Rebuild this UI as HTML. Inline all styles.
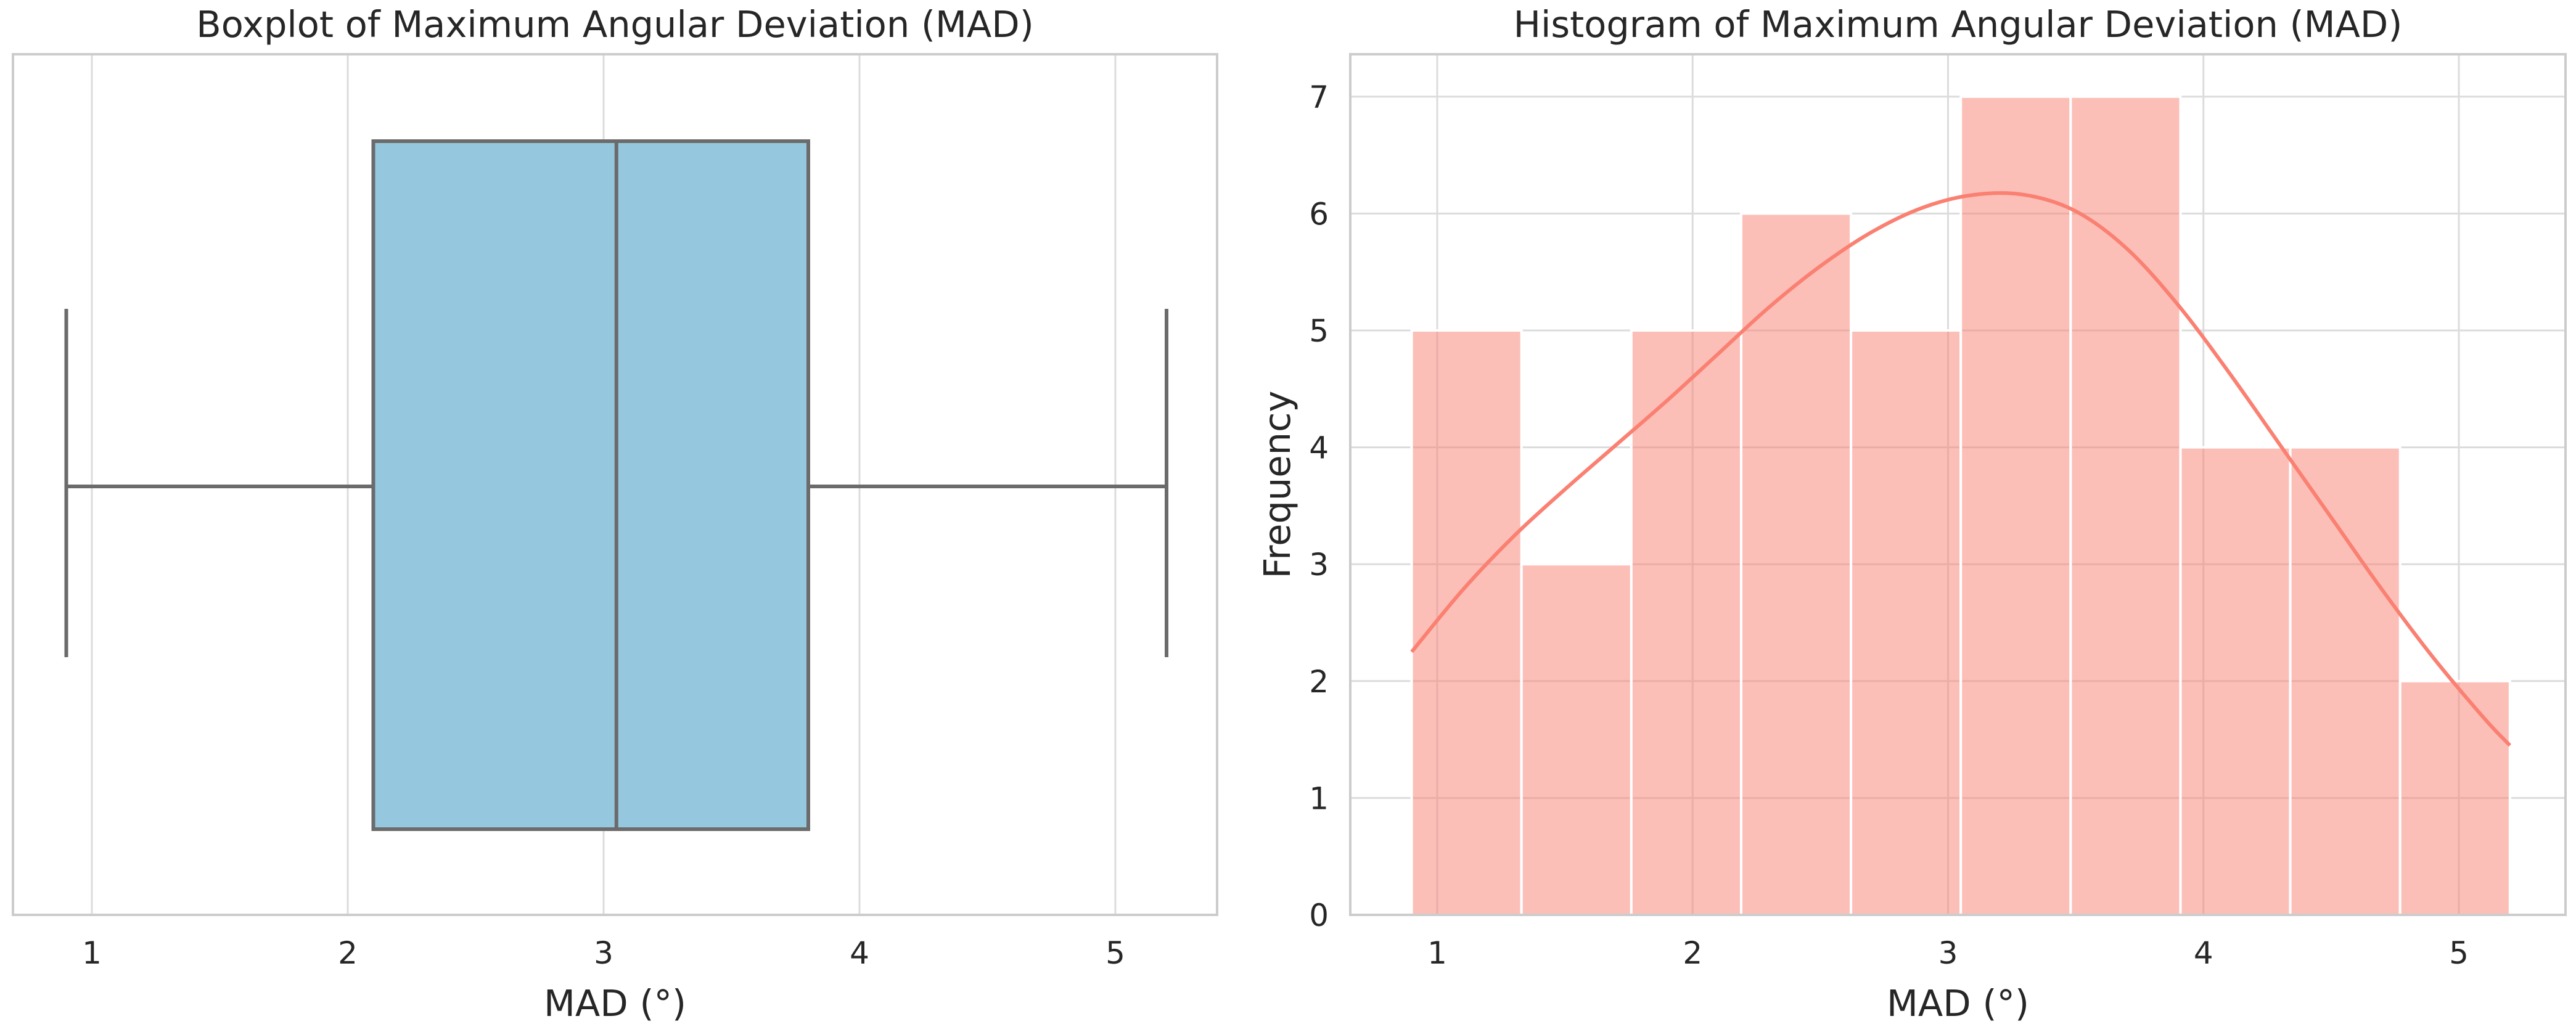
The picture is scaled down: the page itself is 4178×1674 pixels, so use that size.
<!DOCTYPE html>
<html><head><meta charset="utf-8"><style>
html,body{margin:0;padding:0;background:#fff;}
svg{display:block;font-family:"DejaVu Sans","Liberation Sans",sans-serif;}
</style></head><body>
<svg id="fig" width="4178" height="1674" viewBox="0 0 4178 1674"></svg>
<script>
// Boxplot data
const boxStats = [0.9, 2.1, 3.05, 3.8, 5.2]; // whislo, q1, med, q3, whishi
const xTicks = [1, 2, 3, 4, 5];
// Histogram data
const binEdges = [0.9, 1.33, 1.76, 2.19, 2.62, 3.05, 3.48, 3.91, 4.34, 4.77, 5.2];
const binCounts = [5, 3, 5, 6, 5, 7, 7, 4, 4, 2];
const yTicks = [0, 1, 2, 3, 4, 5, 6, 7];
const kdeX = [0.9, 1.1, 1.3, 1.5, 1.7, 1.9, 2.1, 2.3, 2.5, 2.7, 2.9, 3.1, 3.3, 3.5, 3.7, 3.9, 4.1, 4.3, 4.5, 4.7, 4.9, 5.1, 5.2];
const kdeY = [2.25, 2.78, 3.24, 3.64, 4.02, 4.40, 4.80, 5.20, 5.55, 5.84, 6.05, 6.16, 6.16, 6.02, 5.70, 5.22, 4.64, 4.02, 3.40, 2.78, 2.20, 1.68, 1.45];

const NS = 'http://www.w3.org/2000/svg';
const svg = document.getElementById('fig');
function mk(tag, attrs, parent) {
  const e = document.createElementNS(NS, tag);
  for (const k in attrs) e.setAttribute(k, attrs[k]);
  (parent || svg).appendChild(e);
  return e;
}
function txt(s, attrs) { const t = mk('text', attrs); t.textContent = s; return t; }
const TICK_FS = 50, LABEL_FS = 59;

// ---------- Left: boxplot ----------
const L = {x0: 21, x1: 1974, y0: 88, y1: 1484};
const bx = v => 149 + (v - 1) * 415;
for (const t of xTicks) {
  const g = mk('line', {x1: bx(t), x2: bx(t), y1: L.y0, y2: L.y1, stroke: '#dcdcdc', 'stroke-width': 3});
  
  
  const lb = txt(String(t), {x: bx(t), y: 1563, 'font-size': TICK_FS, fill: '#262626', 'text-anchor': 'middle'});
  
  
}
const yMid = 789, capTop = 501, capBot = 1066, boxTop = 229, boxBot = 1345;
const bs = {stroke: '#6b6b6b', 'stroke-width': 6};
let e;
e = mk('line', Object.assign({x1: bx(boxStats[0]), x2: bx(boxStats[1]), y1: yMid, y2: yMid}, bs));
 
e = mk('line', Object.assign({x1: bx(boxStats[3]), x2: bx(boxStats[4]), y1: yMid, y2: yMid}, bs));
 
e = mk('line', Object.assign({x1: bx(boxStats[0]), x2: bx(boxStats[0]), y1: capTop, y2: capBot}, bs));
 
e = mk('line', Object.assign({x1: bx(boxStats[4]), x2: bx(boxStats[4]), y1: capTop, y2: capBot}, bs));
 
e = mk('rect', Object.assign({x: bx(boxStats[1]), y: boxTop, width: bx(boxStats[3]) - bx(boxStats[1]), height: boxBot - boxTop, fill: '#95c8df'}, bs));
 
e = mk('line', Object.assign({x1: bx(boxStats[2]), x2: bx(boxStats[2]), y1: boxTop, y2: boxBot}, bs));
 
e = mk('rect', {x: L.x0, y: L.y0, width: L.x1 - L.x0, height: L.y1 - L.y0, fill: 'none', stroke: '#cccccc', 'stroke-width': 4});
 
e = txt('Boxplot of Maximum Angular Deviation (MAD)', {x: (L.x0 + L.x1) / 2, y: 60, 'font-size': LABEL_FS, fill: '#262626', 'text-anchor': 'middle'});
 
e = txt('MAD (°)', {x: (L.x0 + L.x1) / 2, y: 1648, 'font-size': LABEL_FS, fill: '#262626', 'text-anchor': 'middle'});
 

// ---------- Right: histogram ----------
const R = {x0: 2190, x1: 4161, y0: 88, y1: 1484};
const hx = v => 2331 + (v - 1) * 414.25;
const hy = v => 1484 - v * 189.6;
for (const t of xTicks) {
  const g = mk('line', {x1: hx(t), x2: hx(t), y1: R.y0, y2: R.y1, stroke: '#dcdcdc', 'stroke-width': 3});
  
  
  const lb = txt(String(t), {x: hx(t), y: 1563, 'font-size': TICK_FS, fill: '#262626', 'text-anchor': 'middle'});
  
  
}
for (const t of yTicks) {
  const g = mk('line', {x1: R.x0, x2: R.x1, y1: hy(t), y2: hy(t), stroke: '#dcdcdc', 'stroke-width': 3});
  
  
  const lb = txt(String(t), {x: 2155, y: hy(t) + 18, 'font-size': TICK_FS, fill: '#262626', 'text-anchor': 'end'});
  
  
}
for (let i = 0; i < binCounts.length; i++) {
  const b = mk('rect', {x: hx(binEdges[i]), y: hy(binCounts[i]), width: hx(binEdges[i + 1]) - hx(binEdges[i]), height: hy(0) - hy(binCounts[i]), fill: 'rgba(250,128,114,0.5)', stroke: '#ffffff', 'stroke-width': 4});
  
  
}
// smooth Catmull-Rom path through KDE points
const P = kdeX.map((x, i) => [hx(x), hy(kdeY[i])]);
let d = 'M' + P[0][0].toFixed(1) + ',' + P[0][1].toFixed(1);
for (let i = 0; i < P.length - 1; i++) {
  const p0 = P[Math.max(0, i - 1)], p1 = P[i], p2 = P[i + 1], p3 = P[Math.min(P.length - 1, i + 2)];
  const c1 = [p1[0] + (p2[0] - p0[0]) / 6, p1[1] + (p2[1] - p0[1]) / 6];
  const c2 = [p2[0] - (p3[0] - p1[0]) / 6, p2[1] - (p3[1] - p1[1]) / 6];
  d += 'C' + c1[0].toFixed(1) + ',' + c1[1].toFixed(1) + ' ' + c2[0].toFixed(1) + ',' + c2[1].toFixed(1) + ' ' + p2[0].toFixed(1) + ',' + p2[1].toFixed(1);
}
e = mk('path', {d: d, fill: 'none', stroke: '#fa8072', 'stroke-width': 6, 'stroke-linejoin': 'round'});
 
e = mk('rect', {x: R.x0, y: R.y0, width: R.x1 - R.x0, height: R.y1 - R.y0, fill: 'none', stroke: '#cccccc', 'stroke-width': 4});
 
e = txt('Histogram of Maximum Angular Deviation (MAD)', {x: (R.x0 + R.x1) / 2, y: 60, 'font-size': LABEL_FS, fill: '#262626', 'text-anchor': 'middle'});
 
e = txt('MAD (°)', {x: (R.x0 + R.x1) / 2, y: 1648, 'font-size': LABEL_FS, fill: '#262626', 'text-anchor': 'middle'});
 
e = txt('Frequency', {x: 0, y: 0, 'font-size': LABEL_FS, fill: '#262626', 'text-anchor': 'middle', transform: 'translate(2092,786) rotate(-90)'});
 
</script>
</body></html>
